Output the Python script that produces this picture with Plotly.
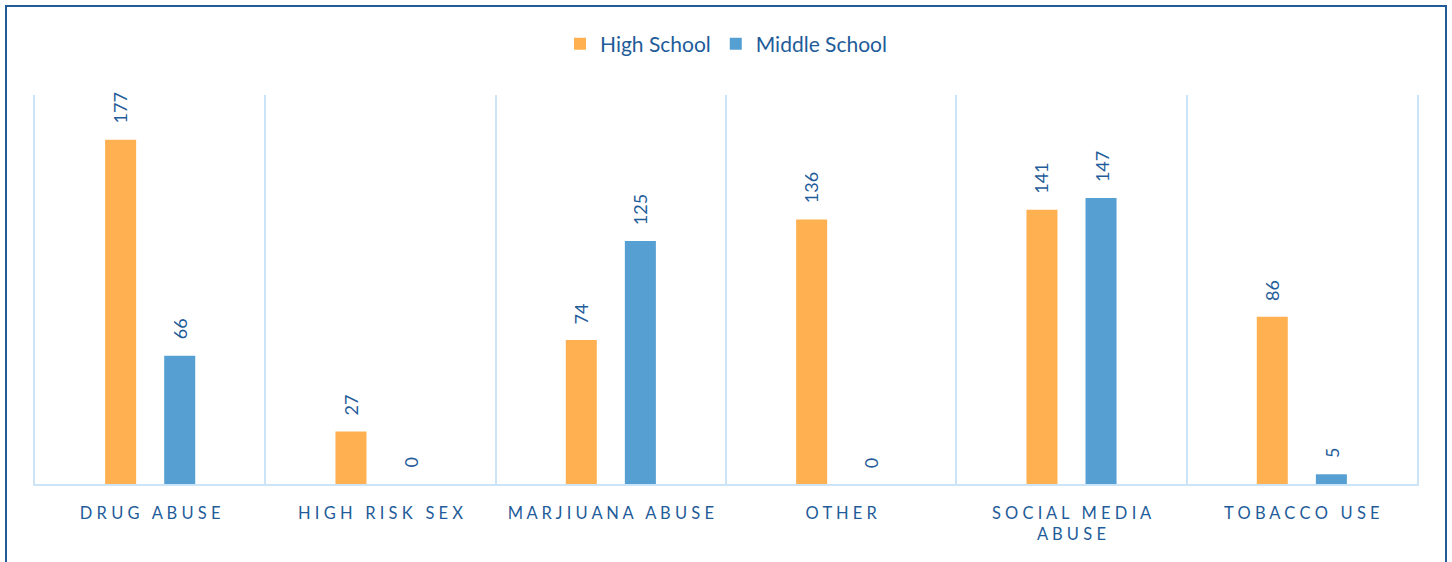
import plotly.graph_objects as go

# Counts of reported concerns by category and school level
categories = ["DRUG ABUSE", "HIGH RISK SEX", "MARJIUANA ABUSE", "OTHER",
              "SOCIAL MEDIA<br>ABUSE", "TOBACCO USE"]
high_school = [177, 27, 74, 136, 141, 86]
middle_school = [66, 0, 125, 0, 147, 5]

ORANGE = "#FFB152"
BLUE = "#559FD2"
TEXT = "#1F5C99"
GRID = "#CCE4F8"

W, H = 1452, 562
ML, MR, MT, MB = 35, 35, 95, 78


def spaced(label):
    """Spread letters apart, with a wider gap between words."""
    lines = []
    for line in label.split("<br>"):
        words = [" ".join(w) for w in line.split(" ")]
        lines.append("   ".join(words))
    return "<br>".join(lines)


fig = go.Figure()
fig.add_trace(go.Bar(name="High School", x=categories, y=high_school,
                     marker=dict(color=ORANGE, line=dict(width=0))))
fig.add_trace(go.Bar(name="Middle School", x=categories, y=middle_school,
                     marker=dict(color=BLUE, line=dict(width=0))))

# Rotated value labels above each bar
for vals, shift in ((high_school, -30), (middle_school, 30)):
    for cat, v in zip(categories, vals):
        fig.add_annotation(x=cat, y=v, xshift=shift, yshift=14,
                           text=str(v), textangle=-90, showarrow=False,
                           xanchor="center", yanchor="bottom",
                           font=dict(family="Lato", size=18, color=TEXT))

# Frame around the chart
pw, ph = W - ML - MR, H - MT - MB
fig.add_shape(type="rect", xref="paper", yref="paper",
              x0=(6 - ML) / pw, x1=(W - 6 - ML) / pw,
              y0=(-20 - MB) / ph, y1=(H - 6 - MB) / ph,
              line=dict(color=TEXT, width=2), fillcolor="rgba(0,0,0,0)")

fig.update_layout(
    width=W, height=H,
    margin=dict(l=ML, r=MR, t=MT, b=MB),
    paper_bgcolor="white", plot_bgcolor="white",
    barmode="group", bargap=0.487, bargroupgap=0.475,
    showlegend=True,
    legend=dict(orientation="h", x=0.5, xanchor="center",
                y=(H - 44 - MB) / ph, yanchor="middle",
                font=dict(family="Lato", size=21, color=TEXT),
                itemwidth=30, traceorder="normal"),
    font=dict(family="Lato", color=TEXT),
)
fig.update_xaxes(
    tickmode="array", tickvals=categories,
    ticktext=[spaced(c) for c in categories],
    tickson="boundaries", showgrid=True, gridcolor=GRID, gridwidth=2,
    showline=True, linecolor=GRID, linewidth=2,
    ticks="", ticklabelstandoff=13,
    tickfont=dict(family="Lato", size=16.5, color=TEXT),
)
fig.update_yaxes(range=[0, 200], showgrid=False, showticklabels=False,
                 zeroline=False, showline=True, mirror=True,
                 linecolor=GRID, linewidth=2)

fig.write_html("out.html")
